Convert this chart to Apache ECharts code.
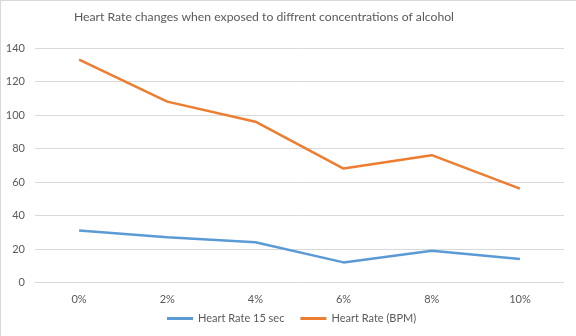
<!DOCTYPE html>
<html>
<head>
<meta charset="utf-8">
<script src="https://cdn.jsdelivr.net/npm/echarts@6/dist/echarts.min.js"></script>
<style>
  html, body { margin: 0; padding: 0; background: #fff; }
  #chart { width: 575px; height: 335px; border-left: 1px solid #d9d9d9; border-top: 1px solid #d9d9d9; }
</style>
</head>
<body>
<div id="chart"></div>
<script>
// Alcohol concentrations tested
const concentrations = ['0%', '2%', '4%', '6%', '8%', '10%'];
// Beats counted over 15 seconds
const rate15sec = [31, 27, 24, 12, 19, 14];
// Beats per minute
const rateBPM = [133, 108, 96, 68, 76, 56];

const textColor = '#595959';
const font = 'Lato, "Open Sans", sans-serif';

const chart = echarts.init(document.getElementById('chart'));
chart.setOption({
  animation: false,
  title: {
    text: 'Heart Rate changes when exposed to diffrent concentrations of alcohol',
    left: 68,
    top: 5,
    textStyle: { color: textColor, fontSize: 12.2, fontWeight: 'normal', fontFamily: font }
  },
  legend: {
    bottom: 7,
    left: 161,
    icon: 'rect',
    itemWidth: 26,
    itemHeight: 3,
    itemGap: 16,
    textStyle: { color: textColor, fontSize: 11, fontFamily: font }
  },
  grid: { left: 34, right: 12, top: 47, bottom: 53.5 },
  xAxis: {
    type: 'category',
    data: concentrations,
    axisLine: { show: false },
    axisTick: { show: false },
    axisLabel: { color: textColor, fontSize: 11, fontFamily: font, margin: 11 }
  },
  yAxis: {
    type: 'value',
    min: 0,
    max: 140,
    interval: 20,
    axisLabel: { color: textColor, fontSize: 11, fontFamily: font, margin: 10 },
    splitLine: { lineStyle: { color: '#d9d9d9', width: 1 } }
  },
  series: [
    {
      name: 'Heart Rate 15 sec',
      type: 'line',
      data: rate15sec,
      symbol: 'none',
      color: '#5b9bd5',
      lineStyle: { width: 2.5 }
    },
    {
      name: 'Heart Rate (BPM)',
      type: 'line',
      data: rateBPM,
      symbol: 'none',
      color: '#ed7d31',
      lineStyle: { width: 2.5 }
    }
  ]
});
</script>
</body>
</html>
